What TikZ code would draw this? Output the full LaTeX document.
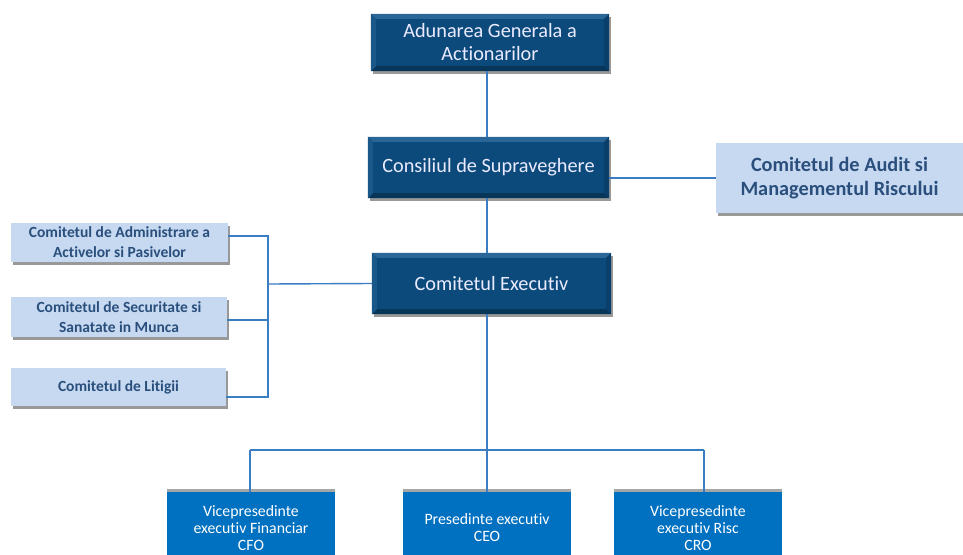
\documentclass[tikz,border=0pt]{standalone}
\usepackage{fontspec}
\setmainfont{Carlito}[Ligatures=CommonOff]
\usetikzlibrary{shadows}
\definecolor{darkbox}{HTML}{0D4A7C}
\definecolor{bevtop}{HTML}{2A6698}
\definecolor{bevleft}{HTML}{1B588A}
\definecolor{bevbot}{HTML}{073659}
\definecolor{bevright}{HTML}{0A3F6B}
\definecolor{lightbox}{HTML}{C6D9F1}
\definecolor{lighttext}{HTML}{2A4F7C}
\definecolor{midbox}{HTML}{0070C0}
\definecolor{connc}{HTML}{3A7DC3}
\newcommand\bevelit[1]{%
  \fill[bevtop] (#1.north west) -- (#1.north east) -- ([xshift=-5pt,yshift=-5pt]#1.north east) -- ([xshift=5pt,yshift=-5pt]#1.north west) -- cycle;
  \fill[bevbot] (#1.south west) -- (#1.south east) -- ([xshift=-5pt,yshift=5pt]#1.south east) -- ([xshift=5pt,yshift=5pt]#1.south west) -- cycle;
  \fill[bevleft] (#1.north west) -- (#1.south west) -- ([xshift=5pt,yshift=5pt]#1.south west) -- ([xshift=5pt,yshift=-5pt]#1.north west) -- cycle;
  \fill[bevright] (#1.north east) -- (#1.south east) -- ([xshift=-5pt,yshift=5pt]#1.south east) -- ([xshift=-5pt,yshift=-5pt]#1.north east) -- cycle;
}
\begin{document}
\begin{tikzpicture}[x=1pt,y=-1pt,
  darknode/.style={fill=darkbox, inner sep=0pt,
    drop shadow={shadow xshift=1.5pt,shadow yshift=-2.5pt,opacity=0.4,fill=black}},
  darktext/.style={text=white!92!blue, align=center, font=\fontsize{20.3}{23}\selectfont},
  lightnode/.style={fill=lightbox, text=lighttext, inner sep=0pt, align=center,
    drop shadow={shadow xshift=2pt,shadow yshift=-3pt,opacity=0.4,fill=black}},
  smallfont/.style={font=\bfseries\fontsize{15.5}{20}\selectfont},
  bigfont/.style={font=\bfseries\fontsize{20.3}{24}\selectfont},
  execnode/.style={fill=midbox, text=white, inner sep=0pt, align=center,
    font=\fontsize{15.8}{17}\selectfont, minimum width=168pt, minimum height=72pt},
  conn/.style={draw=connc, line width=1.4pt}]
\useasboundingbox (0,0) rectangle (963,554);
\clip (0,0) rectangle (963,554);
\fill[white] (0,0) rectangle (963,554);

% dark nodes
\node[darknode, minimum width=238pt, minimum height=57pt] (agm) at (490,42.5) {};
\node[darknode, minimum width=241pt, minimum height=61pt] (cs) at (488.5,167.5) {};
\node[darknode, minimum width=239pt, minimum height=61pt] (ce) at (491.5,283.5) {};
\bevelit{agm}
\bevelit{cs}
\bevelit{ce}
\node[darktext] (agmt) at (agm) {Adunarea Generala a\\Actionarilor};
\node[darktext] (cst) at (cs) {Consiliul de Supraveghere};
\node[darktext] (cet) at (ce) {Comitetul Executiv};

% light nodes
\node[lightnode, bigfont, minimum width=247pt, minimum height=70pt] (audit) at (839.5,178) {Comitetul de Audit si\\Managementul Riscului};
\node[lightnode, smallfont, minimum width=217pt, minimum height=39pt] (l1) at (119.5,242.5) {Comitetul de Administrare a\\Activelor si Pasivelor};
\node[lightnode, smallfont, minimum width=216pt, minimum height=40pt] (l2) at (119,317) {Comitetul de Securitate si\\Sanatate in Munca};
\node[lightnode, smallfont, minimum width=215pt, minimum height=38pt] (l3) at (118.5,387) {Comitetul de Litigii};

% bottom nodes (top shadow)
\fill[black!35] (167,489) rectangle (335,495);
\fill[black!35] (403,489) rectangle (571,495);
\fill[black!35] (614,489) rectangle (782,495);
\node[execnode] (cfo) at (251,528) {Vicepresedinte\\executiv Financiar\\CFO};
\node[execnode] (ceo) at (487,528) {Presedinte executiv\\CEO};
\node[execnode] (cro) at (698,528) {Vicepresedinte\\executiv Risc\\CRO};

% connectors
\coordinate (lb) at (268,284);
\coordinate (bj) at (487,450);
\draw[conn] (agm.south -| bj) -- (cs.north -| bj);
\draw[conn] (cs.south -| bj) -- (ce.north -| bj);
\draw[conn] (audit.west) -- (audit.west -| cs.east);
\draw[conn] ([yshift=6.5pt]l1.east) -- ([yshift=6.5pt]l1.east -| lb) -- ([yshift=-10pt]l3.east -| lb) -- ([yshift=-10pt]l3.east);
\draw[conn] ([yshift=-3pt]l2.east) -- ([yshift=-3pt]l2.east -| lb);
\draw[conn] (lb) -- (ce.west);
\draw[conn] (ce.south -| bj) -- (bj);
\draw[conn] ([xshift=-1pt]cfo.north |- bj) -- ([xshift=6pt]cro.north |- bj);
\draw[conn] ([xshift=-1pt]cfo.north |- bj) -- ([xshift=-1pt]cfo.north);
\draw[conn] (bj) -- (ceo.north);
\draw[conn] ([xshift=6pt]cro.north |- bj) -- ([xshift=6pt]cro.north);
\end{tikzpicture}
\end{document}
